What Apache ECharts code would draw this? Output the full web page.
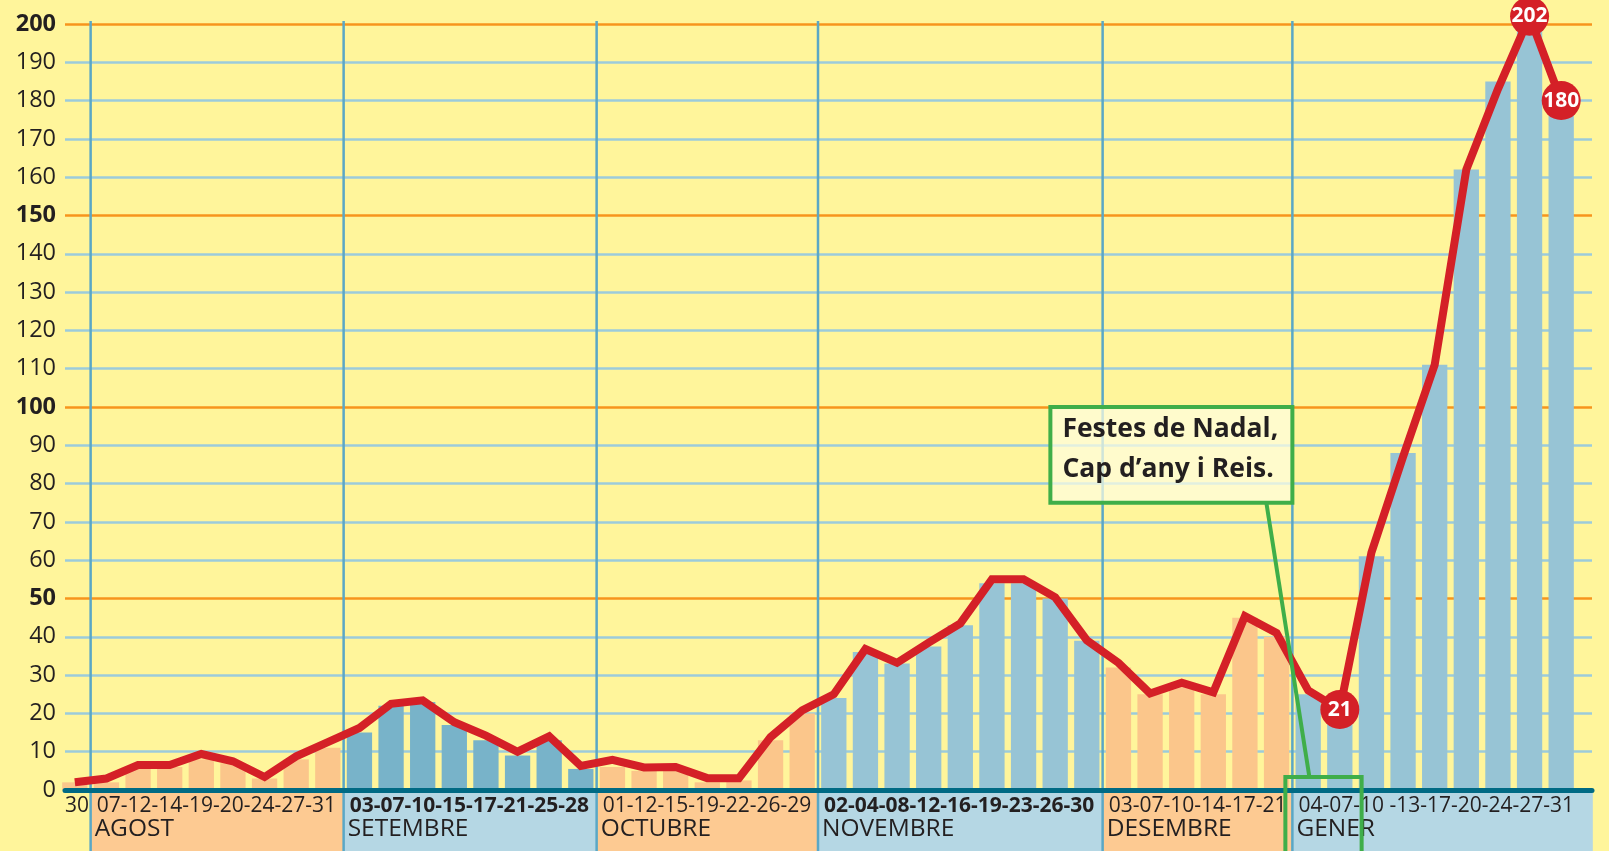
<!DOCTYPE html>
<html>
<head>
<meta charset="utf-8">
<title>Casos per setmana</title>
<script src="https://cdn.jsdelivr.net/npm/echarts@6/dist/echarts.min.js"></script>
<style>
  html, body { margin: 0; padding: 0; background: #fff59b; }
  #chart { width: 1609px; height: 851px; }
</style>
</head>
<body>
<div id="chart"></div>
<script>
// day labels printed under the axis, one group per month
var monthNames = ['', 'AGOST', 'SETEMBRE', 'OCTUBRE', 'NOVEMBRE', 'DESEMBRE', 'GENER'];
var dayLabels = [
  '30',
  '07-12-14-19-20-24-27-31',
  '03-07-10-15-17-21-25-28',
  '01-12-15-19-22-26-29',
  '02-04-08-12-16-19-23-26-30',
  '03-07-10-14-17-21',
  '04-07-10 -13-17-20-24-27-31'
];

// one value per date
var barValues = [
  2,
  2, 6, 6, 8, 7, 3, 8, 11,
  15, 22, 23, 17, 13, 9, 13, 5.5,
  6, 5, 5, 2, 2.5, 13, 20,
  24, 36, 33, 37.5, 43, 54, 54, 50, 39,
  32, 25, 27, 25, 45, 40,
  25, 21, 61, 88, 111, 162, 185, 202, 180
];
var lineValues = [
  2,
  3, 6.5, 6.5, 9.4, 7.5, 3.4, 8.8, 12.5,
  16.2, 22.5, 23.4, 17.7, 14.2, 10, 14, 6.3,
  7.9, 5.9, 6, 3.1, 3.1, 13.8, 20.8,
  25, 36.8, 33.2, 38.5, 43.5, 55, 55, 50.3, 39.1,
  33.2, 25.2, 28, 25.5, 45.4, 41,
  26, 21, 62, 87, 111, 162, 183, 202, 180
];
var circledPoints = [40, 46, 47];
var noteText = ['Festes de Nadal,', 'Cap d\u2019any i Reis.'];

// styles
var FONT = 'Open Sans';
var INK = '#231f20';
var RED = '#d42027';
var GREEN = '#3fae49';
var barColors = ['#fbc68b', '#fbc68b', '#78b3c9', '#fbc68b', '#97c4d5', '#fbc68b', '#97c4d5'];
var bandColors = [null, '#fdca92', '#b5d7e4', '#fdca92', '#b5d7e4', '#fdca92', '#b5d7e4'];
var boldMonths = [2, 4];

var categories = [];
var monthOfCat = [];
var monthSpans = [];
dayLabels.forEach(function (lbl, m) {
  var days = lbl.split('-').map(function (d) { return d.trim(); });
  monthSpans.push([categories.length, categories.length + days.length - 1, m]);
  days.forEach(function (d) {
    categories.push(d + ' ' + (monthNames[m] || 'JULIOL'));
    monthOfCat.push(m);
  });
});
var janStart = monthSpans[monthSpans.length - 1][0];

function renderMonth(params, api) {
  var s = api.value(0), e = api.value(1), m = api.value(2);
  var w = api.size([1, 0])[0];
  var base = api.coord([s, 0]);
  var x0 = base[0] - w / 2;
  var x1 = api.coord([e, 0])[0] + w / 2;
  if (m === dayLabels.length - 1) x1 += w / 2;
  var top = api.coord([s, 200])[1] - 3;
  var y0 = base[1] + 2;
  var H = api.getHeight();
  var kids = [];
  if (bandColors[m]) {
    kids.push({ type: 'rect', shape: { x: x0, y: y0, width: x1 - x0, height: H - y0 }, style: { fill: bandColors[m] } });
  }
  if (m > 0) {
    kids.push({ type: 'line', shape: { x1: x0, y1: top, x2: x0, y2: H }, style: { stroke: '#5aa7c6', lineWidth: 2.5 } });
  }
  kids.push({ type: 'text', style: {
    x: x0 + 6, y: y0 + 14, text: dayLabels[m], fill: INK, fontFamily: FONT, fontSize: 21,
    fontWeight: boldMonths.indexOf(m) >= 0 ? 'bold' : 'normal', verticalAlign: 'middle'
  } });
  kids.push({ type: 'text', style: {
    x: x0 + 4, y: y0 + 37, text: monthNames[m], fill: INK, fontFamily: FONT, fontSize: 24.5, verticalAlign: 'middle'
  } });
  return { type: 'group', children: kids };
}

function renderNote(params, api) {
  var c = api.value(0);
  var w = api.size([1, 0])[0];
  var left = api.coord([c, 0])[0] - w / 2;
  var base = api.coord([c, 0])[1];
  var top = api.coord([c, 100])[1];
  var bottom = api.coord([c, 75])[1];
  var boxW = 242;
  var bx = left - boxW;
  var sx0 = left - 7, sx1 = left + 2 * w + 6, sy = base - 13;
  var txt = { fill: INK, fontFamily: FONT, fontSize: 26.5, fontWeight: 'bold', verticalAlign: 'middle' };
  return { type: 'group', children: [
    { type: 'rect', shape: { x: bx, y: top, width: boxW, height: bottom - top }, style: { fill: 'rgba(255,253,225,0.7)', stroke: GREEN, lineWidth: 4 } },
    { type: 'text', style: Object.assign({ x: bx + 12, y: top + 22, text: noteText[0] }, txt) },
    { type: 'text', style: Object.assign({ x: bx + 12, y: top + 62, text: noteText[1] }, txt) },
    { type: 'line', shape: { x1: bx + boxW - 26, y1: bottom, x2: sx0 + 24, y2: sy }, style: { stroke: GREEN, lineWidth: 4 } },
    { type: 'rect', shape: { x: sx0, y: sy, width: sx1 - sx0, height: api.getHeight() - sy + 10 }, style: { fill: 'none', stroke: GREEN, lineWidth: 4 } }
  ] };
}

var option = {
  animation: false,
  backgroundColor: '#fff59b',
  textStyle: { fontFamily: FONT },
  grid: [
    { left: 65, right: 17, top: 24, bottom: 61, outerBoundsMode: 'none' },
    { left: 59, right: 32, top: 24, bottom: 61, outerBoundsMode: 'none' }
  ],
  xAxis: [
    { gridIndex: 0, type: 'value', min: 0, max: 1, z: 3,
      axisLine: { show: true, lineStyle: { color: '#006a84', width: 5 } },
      axisTick: { show: false }, axisLabel: { show: false }, splitLine: { show: false } },
    { gridIndex: 1, type: 'category', data: categories, show: false }
  ],
  yAxis: [
    { gridIndex: 0, type: 'value', min: 0, max: 200, interval: 10,
      axisLine: { show: false }, axisTick: { show: false },
      axisLabel: {
        color: INK, fontSize: 23.5, fontFamily: FONT, margin: 9,
        formatter: function (v) { return v > 0 && v % 50 === 0 ? '{b|' + v + '}' : '' + v; },
        rich: { b: { fontWeight: 'bold', fontSize: 23.5, fontFamily: FONT, color: INK } }
      },
      splitLine: { show: true, lineStyle: { width: 2.5, color: ['#f7941d', '#9ccbdb', '#9ccbdb', '#9ccbdb', '#9ccbdb'] } }
    },
    { gridIndex: 1, type: 'value', min: 0, max: 200, show: false, splitLine: { show: false } }
  ],
  series: [
    {
      type: 'custom', xAxisIndex: 1, yAxisIndex: 1, z: 1, silent: true,
      renderItem: renderMonth, data: monthSpans
    },
    {
      type: 'bar', xAxisIndex: 1, yAxisIndex: 1, z: 2, barCategoryGap: '20%',
      data: barValues.map(function (v, i) { return { value: v, itemStyle: { color: barColors[monthOfCat[i]] } }; })
    },
    {
      type: 'line', xAxisIndex: 1, yAxisIndex: 1, z: 4, clip: false,
      symbol: 'none', showAllSymbol: true,
      lineStyle: { color: RED, width: 8, join: 'miter' },
      itemStyle: { color: RED },
      data: lineValues.map(function (v, i) {
        if (circledPoints.indexOf(i) < 0) return v;
        return {
          value: v, symbol: 'circle', symbolSize: 39,
          itemStyle: { color: RED },
          label: { show: true, position: 'inside', color: '#fff', fontWeight: 'bold', fontSize: 21, fontFamily: FONT }
        };
      })
    },
    {
      type: 'custom', xAxisIndex: 1, yAxisIndex: 1, z: 5, silent: true,
      renderItem: renderNote, data: [[janStart, 100]]
    }
  ]
};

var chart = echarts.init(document.getElementById('chart'));
chart.setOption(option);
window.addEventListener('resize', function () { chart.resize(); });
</script>
</body>
</html>
